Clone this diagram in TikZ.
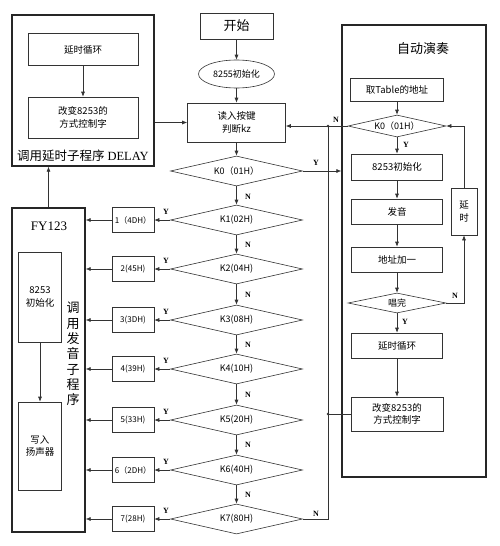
\documentclass[tikz,border=0pt]{standalone}
\usepackage{fontspec}
\setmainfont{Liberation Serif}
\newfontfamily\cjk{Noto Sans CJK SC}
\usetikzlibrary{shapes.geometric,arrows.meta}
\begin{document}
\begin{tikzpicture}[x=1pt,y=-1pt,
  line/.style={draw=black!80, line width=0.6pt},
  box/.style={line, rectangle, inner sep=1pt, align=center, font=\cjk\fontsize{9.5}{12.5}\selectfont},
  dia/.style={line, diamond, aspect=4.4, inner sep=0pt, align=center, font=\cjk\fontsize{9}{11}\selectfont},
  outer/.style={draw=black!85, line width=1.3pt, rectangle, inner sep=0pt},
  nbox/.style={box, minimum width=42pt, minimum height=25pt, font=\cjk\fontsize{8}{10}\selectfont},
  kdia/.style={dia, minimum width=132pt, minimum height=30pt},
  arr/.style={line, -{Latex[length=5pt,width=4pt]}},
  lab/.style={font=\bfseries\fontsize{8}{9}\selectfont, inner sep=0pt},
  ttl/.style={font=\cjk\fontsize{13}{15}\selectfont, inner sep=0pt}]
\useasboundingbox (0,0) rectangle (500,546);

% ---------- DELAY subroutine ----------
\node[outer, minimum width=142pt, minimum height=151pt] (delay) at (83,90.5) {};
\node[box, minimum width=110pt, minimum height=32pt] (dl1) at (83,49.5) {延时循环};
\node[box, minimum width=110pt, minimum height=41pt] (dl2) at (83,117.5) {改变8253的\\方式控制字};
\node[font=\cjk\fontsize{12.5}{14}\selectfont, inner sep=0pt] (dlt) at (83,156) {调用延时子程序 {\rmfamily DELAY}};
\draw[arr] (dl1) -- (dl2);

% ---------- main column ----------
\node[box, minimum width=73pt, minimum height=26pt, font=\cjk\fontsize{13}{15}\selectfont] (start) at (236.5,26) {开始};
\node[line, ellipse, inner sep=0pt, minimum width=76pt, minimum height=28pt, font=\cjk\fontsize{9}{11}\selectfont] (init) at (236.5,74) {8255初始化};
\node[box, minimum width=98pt, minimum height=39pt] (read) at (236.5,122.5) {读入按键\\判断kz};
\node[kdia] (k0) at (236.5,171) {K0（01H）};
\node[kdia] (k1) at (236.5,220) {K1(02H)};
\node[kdia] (k2) at (236.5,269) {K2(04H)};
\node[kdia] (k3) at (236.5,320) {K3(08H)};
\node[kdia] (k4) at (236.5,369) {K4(10H)};
\node[kdia] (k5) at (236.5,420) {K5(20H)};
\node[kdia] (k6) at (236.5,470) {K6(40H)};
\node[kdia] (k7) at (236.5,519) {K7(80H)};

\node[nbox] (n1) at (133,220) {1（4DH）};
\node[nbox] (n2) at (133,269) {2(45H)};
\node[nbox] (n3) at (133,320) {3(3DH)};
\node[nbox] (n4) at (133,369) {4(39H)};
\node[nbox] (n5) at (133,420) {5(33H)};
\node[nbox] (n6) at (133,470) {6（2DH）};
\node[nbox] (n7) at (133,519) {7(28H)};

\draw[arr] (start) -- (init);
\draw[arr] (init) -- (read);
\draw[arr] (read) -- (k0);
\draw[arr] (k0) -- (k1);
\draw[arr] (k1) -- (k2);
\draw[arr] (k2) -- (k3);
\draw[arr] (k3) -- (k4);
\draw[arr] (k4) -- (k5);
\draw[arr] (k5) -- (k6);
\draw[arr] (k6) -- (k7);
\foreach \y in {196.5,245,295,345,395,445,495} \node[lab] at (248,\y) {N};
\foreach \i/\y in {1/220,2/269,3/320,4/369,5/420,6/470,7/519} {
  \draw[arr] (k\i.west) -- (n\i.east);
  \node[lab] at (166,\y-8) {Y};
}
\draw[arr] (delay.east |- read.west) -- (read.west);

% ---------- FY123 subroutine ----------
\node[outer, minimum width=73pt, minimum height=324pt] (fy) at (48.5,370) {};
\node[font=\fontsize{13}{15}\selectfont, inner sep=0pt] (fyt) at (49,226) {FY123};
\node[box, minimum width=43pt, minimum height=90pt] (fi) at (40,297) {8253\\初始化};
\node[box, minimum width=43pt, minimum height=88pt] (fw) at (40,446) {写入\\扬声器};
\node[font=\cjk\fontsize{13}{15.3}\selectfont, align=center, inner sep=0pt] (vt) at (73,354) {调\\用\\发\\音\\子\\程\\序};
\draw[arr] (fi) -- (fw);
\foreach \i in {1,...,7} \draw[arr] (n\i.west) -- (fy.east |- n\i.west);
\draw[arr] (fy.north) -- (fy.north |- delay.south);

% ---------- auto play ----------
\node[outer, minimum width=144pt, minimum height=452pt] (auto) at (414,251) {};
\node[ttl] (att) at (423,49) {自动演奏};
\node[box, minimum width=93pt, minimum height=23pt] (tab) at (397,89.5) {取Table的地址};
\node[dia, minimum width=98pt, minimum height=22pt] (ak0) at (397,126) {K0（01H）};
\node[box, minimum width=91pt, minimum height=26pt] (ai) at (397,167) {8253初始化};
\node[box, minimum width=91pt, minimum height=25pt] (fa) at (397,211.5) {发音};
\node[box, minimum width=91pt, minimum height=25pt] (ad) at (397,259.5) {地址加一};
\node[dia, minimum width=98pt, minimum height=20pt] (ch) at (397,303) {唱完};
\node[box, minimum width=91pt, minimum height=25pt] (lp) at (397,345.5) {延时循环};
\node[box, minimum width=92pt, minimum height=34pt] (chg) at (397,414) {改变8253的\\方式控制字};
\node[box, minimum width=26pt, minimum height=47pt] (ys) at (464,211.5) {延\\时};

\draw[arr] (tab) -- (ak0);
\draw[arr] (ak0) -- (ai);
\draw[arr] (ai) -- (fa);
\draw[arr] (fa) -- (ad);
\draw[arr] (ad) -- (ch);
\draw[arr] (ch) -- (lp);
\draw[arr] (lp) -- (chg);
\draw[arr] (ch.east) -| (ys.south);
\draw[arr] (ys.north) |- (ak0.east);
\node[lab] at (406,145) {Y};
\node[lab] at (405,322) {Y};
\node[lab] at (455,296) {N};

% ---------- cross connections ----------
\coordinate (jx) at (328,0);
\coordinate (j1) at (jx |- ak0.west);
\coordinate (j2) at (jx |- chg.west);
\draw[arr] (ak0.west) -- (ak0.west -| read.east);
\draw[line] (k7.east) -- (k7.east -| jx) -- (j1);
\draw[line] (chg.west) -- (j2);
\fill[black!80] (j1) circle (1.4pt) (j2) circle (1.4pt);
\draw[arr] (k0.east) -- (k0.east -| auto.west);
\node[lab] at (336,120) {N};
\node[lab] at (316,163) {Y};
\node[lab] at (316,514) {N};
\end{tikzpicture}
\end{document}
